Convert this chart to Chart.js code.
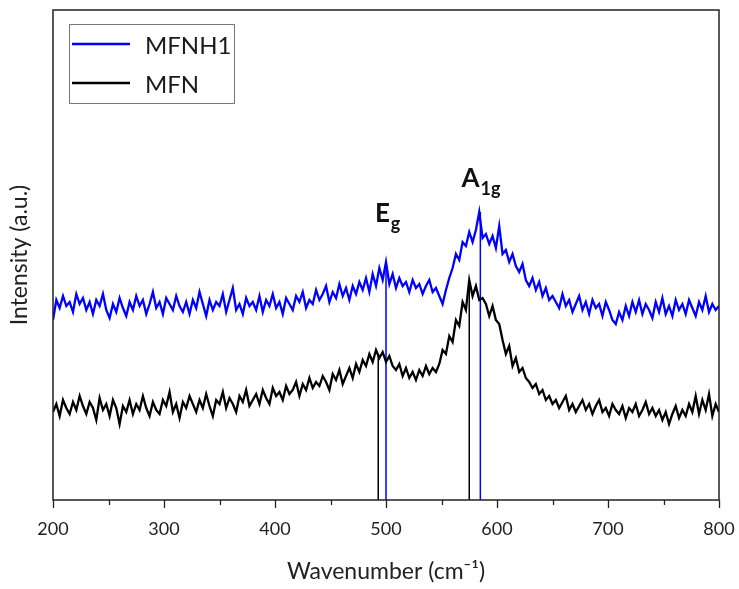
<!DOCTYPE html>
<html><head><meta charset="utf-8">
<script src="https://cdn.jsdelivr.net/npm/chart.js@4.4.1/dist/chart.umd.min.js"></script>
<style>html,body{margin:0;padding:0;background:#fff}#wrap{width:739px;height:589px}</style>
</head><body><div id="wrap"><canvas id="c" width="739" height="589"></canvas></div>
<script>
const wavenumbers = [200,203,206,209,212,215,218,221,224,227,230,233,236,239,242,245,248,251,254,257,260,263,266,269,272,275,278,281,284,287,290,293,296,299,302,305,308,311,314,317,320,323,326,329,332,335,338,341,344,347,350,353,356,359,362,365,368,371,374,377,380,383,386,389,392,395,398,401,404,407,410,413,416,419,422,425,428,431,434,437,440,443,446,449,452,455,458,461,464,467,470,473,476,479,482,485,488,491,494,497,500,503,506,509,512,515,518,521,524,527,530,533,536,539,542,545,548,551,554,557,560,563,566,569,572,575,578,581,584,587,590,593,596,599,602,605,608,611,614,617,620,623,626,629,632,635,638,641,644,647,650,653,656,659,662,665,668,671,674,677,680,683,686,689,692,695,698,701,704,707,710,713,716,719,722,725,728,731,734,737,740,743,746,749,752,755,758,761,764,767,770,773,776,779,782,785,788,791,794,797,800];
const mfnh1 = [
  180,200,192,204,194,198,188,206,196,202,
  190,198,186,200,194,206,190,182,196,188,
  202,192,184,198,190,204,194,200,186,196,
  208,192,198,186,202,196,190,204,194,188,
  198,186,200,192,208,196,184,200,190,198,
  194,206,188,200,212,190,196,186,202,194,
  198,190,204,188,200,194,206,192,198,186,
  202,196,190,204,198,208,192,200,196,210,
  200,206,214,198,208,202,216,204,212,200,
  214,206,218,210,222,208,226,214,232,220,
  238,216,226,212,222,214,218,208,220,212,
  216,206,214,220,208,212,204,196,210,222,
  232,246,240,258,254,268,258,270,288,262,
  266,256,264,252,274,246,250,238,246,234,
  228,236,220,214,222,210,218,204,212,200,
  204,198,192,206,194,200,188,196,204,190,
  198,186,200,192,196,184,198,190,180,176,
  188,180,194,184,198,188,200,186,196,190,
  182,198,188,202,186,194,184,200,190,196,
  186,200,192,184,198,190,204,188,196,190,
  194];
const mfn = [
  88,96,84,100,92,86,98,90,104,94,
  86,98,92,80,102,90,96,84,100,92,
  76,94,88,100,86,96,90,104,92,84,
  98,90,86,100,94,108,88,96,82,98,
  92,104,96,88,100,92,106,94,84,100,
  96,108,92,102,96,88,104,98,110,94,
  100,106,96,110,102,96,112,104,108,100,
  114,106,110,118,104,116,110,122,112,118,
  114,124,118,110,126,120,130,116,124,132,
  122,136,128,140,134,146,138,150,142,148,
  138,144,134,130,136,124,132,122,128,120,
  130,124,134,126,132,128,136,150,146,164,
  158,180,174,198,190,220,204,214,200,202,
  196,184,194,180,176,160,146,154,134,142,
  128,132,122,118,112,116,106,110,100,104,
  96,100,92,98,104,90,96,88,94,100,
  90,96,86,94,100,88,92,84,96,90,
  86,94,82,92,88,96,84,90,98,86,
  92,84,90,80,88,76,86,94,82,90,
  84,96,88,104,86,100,90,106,84,96,
  88];
const seriesLabels = ['MFNH1', 'MFN'];
const seriesColors = ['#0000ff', '#000000'];
const xTickLabels = [200, 300, 400, 500, 600, 700, 800];
const peakPosMFNH1 = [500, 585];
const peakTopMFNH1 = [238, 288];
const peakPosMFN = [493, 575];
const peakTopMFN = [144, 218];
const peakLabelMain = ['E', 'A'];
const peakLabelSub = ['g', '1g'];
const peakLabelAt = [490, 568];
const peakLabelHeight = [278, 313];

const FONT = 'Lato, "Open Sans", sans-serif';
function pts(xs, ys) { return xs.map((x, i) => ({x: x, y: ys[i]})); }
function markers(xs, tops) {
  const out = [];
  xs.forEach((x, i) => { out.push({x: x, y: 0}); out.push({x: x, y: tops[i]}); out.push({x: x, y: null}); });
  return out;
}

const datasets = [
  {label: seriesLabels[0], data: pts(wavenumbers, mfnh1), borderColor: seriesColors[0], borderWidth: 2.3, pointRadius: 0, tension: 0},
  {label: seriesLabels[1], data: pts(wavenumbers, mfn), borderColor: seriesColors[1], borderWidth: 2.3, pointRadius: 0, tension: 0},
  {label: 'peaks-MFN', data: markers(peakPosMFN, peakTopMFN), borderColor: seriesColors[1], borderWidth: 1.5, pointRadius: 0, spanGaps: false},
  {label: 'peaks-MFNH1', data: markers(peakPosMFNH1, peakTopMFNH1), borderColor: seriesColors[0], borderWidth: 1.5, pointRadius: 0, spanGaps: false}
];

const decor = {
  id: 'decor',
  afterDraw(chart) {
    const ctx = chart.ctx, a = chart.chartArea, xs = chart.scales.x, ys = chart.scales.y;
    ctx.save();
    ctx.strokeStyle = '#222'; ctx.lineWidth = 1.5;
    ctx.strokeRect(a.left, a.top, a.right - a.left, a.bottom - a.top);
    ctx.lineWidth = 1.3; ctx.strokeStyle = '#222';
    xs.ticks.forEach(t => {
      const px = Math.round(xs.getPixelForValue(t.value)) + 0.5;
      const len = xTickLabels.includes(t.value) ? 8 : 5;
      ctx.beginPath(); ctx.moveTo(px, a.bottom); ctx.lineTo(px, a.bottom + len); ctx.stroke();
    });
    const lx = a.left + 16, ly = a.top + 14;
    ctx.fillStyle = '#fff'; ctx.fillRect(lx, ly, 165, 79);
    ctx.strokeStyle = '#777'; ctx.lineWidth = 1; ctx.strokeRect(lx + 0.5, ly + 0.5, 165, 79);
    ctx.font = '24px ' + FONT; ctx.textBaseline = 'middle'; ctx.textAlign = 'left';
    [0, 1].forEach(i => {
      const yy = ly + 20 + i * 39;
      ctx.strokeStyle = chart.data.datasets[i].borderColor; ctx.lineWidth = 2.5;
      ctx.beginPath(); ctx.moveTo(lx + 3, yy); ctx.lineTo(lx + 61, yy); ctx.stroke();
      ctx.fillStyle = '#1a1a1a';
      ctx.fillText(chart.data.datasets[i].label, lx + 76, yy + 2);
    });
    ctx.textBaseline = 'alphabetic'; ctx.fillStyle = '#111';
    peakLabelMain.forEach((m, i) => {
      const px = xs.getPixelForValue(peakLabelAt[i]), py = ys.getPixelForValue(peakLabelHeight[i]);
      ctx.font = 'bold 26px ' + FONT;
      ctx.fillText(m, px, py);
      const w = ctx.measureText(m).width;
      ctx.font = 'bold 18px ' + FONT;
      ctx.fillText(peakLabelSub[i], px + w + 1, py + 8);
    });
    ctx.restore();
  }
};

new Chart(document.getElementById('c'), {
  type: 'line',
  data: {datasets: datasets},
  options: {
    responsive: false, animation: false, devicePixelRatio: 1,
    layout: {padding: {top: 10, right: 20, left: 0, bottom: 0}},
    plugins: {legend: {display: false}, tooltip: {enabled: false}},
    scales: {
      x: {
        type: 'linear', min: 200, max: 800,
        grid: {display: false}, border: {display: false},
        ticks: {stepSize: 50, autoSkip: false, maxRotation: 0, padding: 10, color: '#222',
          font: {family: FONT, size: 18},
          callback: v => xTickLabels.includes(v) ? String(v) : ''},
        title: {display: true, text: 'Wavenumber (cm\u207B\u00B9)', color: '#222', font: {family: FONT, size: 23}, padding: {top: 0, bottom: 4}},
        afterFit: s => { s.height = 89; s.paddingLeft = 0; s.paddingRight = 0; }
      },
      y: {
        min: 0, max: 490,
        grid: {display: false}, border: {display: false},
        ticks: {display: false},
        title: {display: true, text: 'Intensity (a.u.)', color: '#222', font: {family: FONT, size: 23}, padding: {top: 6, bottom: 0}},
        afterFit: s => { s.width = 53; s.paddingTop = 0; s.paddingBottom = 0; }
      }
    }
  },
  plugins: [decor]
});
</script></body></html>
